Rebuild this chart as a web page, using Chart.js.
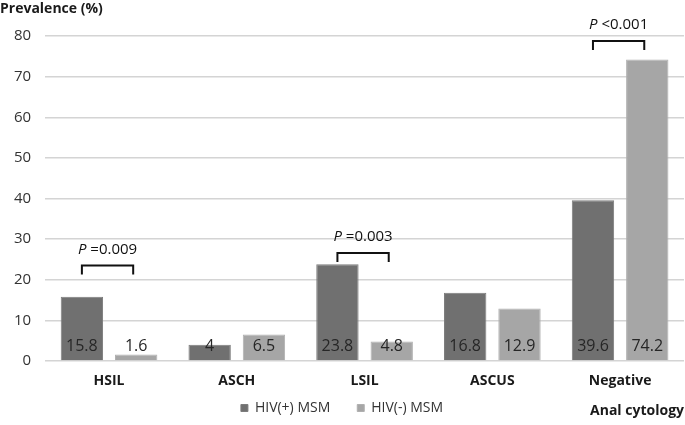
<!DOCTYPE html>
<html>
<head>
<meta charset="utf-8">
<script src="https://cdn.jsdelivr.net/npm/chart.js@4"></script>
<style>
  html, body { margin: 0; padding: 0; background: #fff; }
  #wrap { width: 685px; height: 425px; position: relative; }
</style>
</head>
<body>
<div id="wrap"><canvas id="myChart"></canvas></div>
<script>
const categorias = ["HSIL", "ASCH", "LSIL", "ASCUS", "Negative"];
const hivPos = [15.8, 4, 23.8, 16.8, 39.6];
const hivNeg = [1.6, 6.5, 4.8, 12.9, 74.2];
const yTicks = [0, 10, 20, 30, 40, 50, 60, 70, 80];

// p-value brackets: category, height of bracket, text
const pCats = [0, 2, 4];
const pAltura = [23.5, 26.6, 78.8];
const pTexto = ["=0.009", "=0.003", "<0.001"];

const fonte = "'Open Sans', 'DejaVu Sans', sans-serif";

const extras = {
  id: "extras",
  afterDatasetsDraw(chart) {
    const ctx = chart.ctx;
    const y = chart.scales.y;
    const base = y.getPixelForValue(0);

    // value labels near the bottom of each bar
    ctx.save();
    ctx.font = "16px " + fonte;
    ctx.fillStyle = "#262626";
    ctx.textAlign = "center";
    ctx.textBaseline = "middle";
    chart.data.datasets.forEach((ds, i) => {
      chart.getDatasetMeta(i).data.forEach((bar, j) => {
        ctx.fillText(String(ds.data[j]), bar.x, base - 15);
      });
    });

    // brackets
    const m0 = chart.getDatasetMeta(0).data;
    const m1 = chart.getDatasetMeta(1).data;
    pCats.forEach((c, k) => {
      const x1 = m0[c].x;
      const x2 = m1[c].x - 3;
      const yt = y.getPixelForValue(pAltura[k]);
      ctx.strokeStyle = "#111";
      ctx.lineWidth = 2;
      ctx.beginPath();
      ctx.moveTo(x1, yt + 9);
      ctx.lineTo(x1, yt);
      ctx.lineTo(x2, yt);
      ctx.lineTo(x2, yt + 9);
      ctx.stroke();

      const mid = (x1 + x2) / 2;
      ctx.font = "italic 15px " + fonte;
      const wP = ctx.measureText("P ").width;
      ctx.font = "15px " + fonte;
      const wT = ctx.measureText(pTexto[k]).width;
      const sx = mid - (wP + wT) / 2;
      ctx.textAlign = "left";
      ctx.fillStyle = "#111";
      ctx.font = "italic 15px " + fonte;
      ctx.fillText("P ", sx, yt - 16);
      ctx.font = "15px " + fonte;
      ctx.fillText(pTexto[k], sx + wP, yt - 16);
    });

    // axis titles
    ctx.font = "bold 14px " + fonte;
    ctx.fillStyle = "#1a1a1a";
    ctx.textAlign = "left";
    ctx.fillText("Prevalence (%)", 0, 9);
    ctx.textAlign = "right";
    ctx.fillText("Anal cytology", 684, 411);
    ctx.restore();
  }
};

const ctx = document.getElementById("myChart").getContext("2d");
const myChart = new Chart(ctx, {
  type: "bar",
  data: {
    labels: categorias,
    datasets: [
      {
        label: "HIV(+) MSM",
        data: hivPos,
        backgroundColor: "#707070",
        borderColor: "#7c7c7c",
        borderWidth: 1,
        categoryPercentage: 0.85,
        barPercentage: 0.78
      },
      {
        label: "HIV(-) MSM",
        data: hivNeg,
        backgroundColor: "#a6a6a6",
        borderColor: "#b0b0b0",
        borderWidth: 1,
        categoryPercentage: 0.85,
        barPercentage: 0.78
      }
    ]
  },
  options: {
    responsive: true,
    maintainAspectRatio: false,
    animation: false,
    layout: { padding: { top: 36, right: 1, left: 0, bottom: 0 } },
    plugins: {
      legend: {
        position: "bottom",
        labels: {
          boxWidth: 7,
          boxHeight: 7,
          padding: 6,
          color: "#333",
          font: { family: fonte, size: 14 },
          // extra room after the first entry, like the original legend
          generateLabels: (chart) => {
            const itens = Chart.defaults.plugins.legend.labels.generateLabels(chart);
            itens[0].text = itens[0].text + "\u2002\u2002\u2002";
            return itens;
          }
        }
      },
      tooltip: { enabled: false }
    },
    scales: {
      x: {
        grid: { display: false, drawTicks: false },
        border: { display: false },
        afterFit: (s) => { s.height = 34; },
        ticks: {
          color: "#1a1a1a",
          padding: 12,
          font: { family: fonte, size: 14, weight: "bold" }
        }
      },
      y: {
        min: 0,
        max: 80,
        afterBuildTicks: (axis) => {
          axis.ticks = yTicks.map((v) => ({ value: v }));
        },
        grid: { color: "#d4d4d4", lineWidth: 1.5, drawTicks: false },
        border: { display: false },
        ticks: {
          color: "#333",
          padding: 14,
          font: { family: fonte, size: 15 }
        }
      }
    }
  },
  plugins: [extras]
});
</script>
</body>
</html>
